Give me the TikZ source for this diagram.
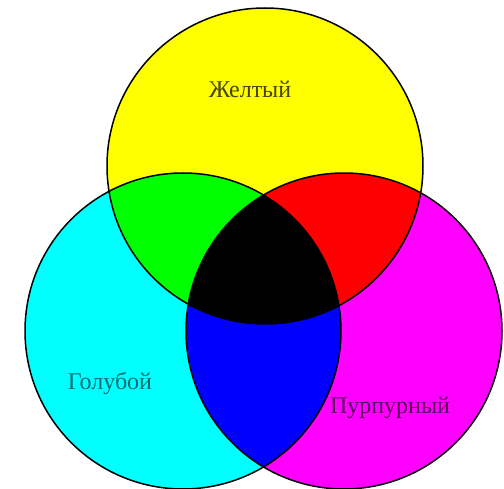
\documentclass[tikz,border=0pt]{standalone}
\usepackage{fontspec}
\setmainfont{Liberation Serif}
\definecolor{cY}{RGB}{255,255,0}
\definecolor{cC}{RGB}{0,255,255}
\definecolor{cM}{RGB}{255,0,255}
\definecolor{cG}{RGB}{0,255,0}
\definecolor{cR}{RGB}{255,0,0}
\definecolor{cB}{RGB}{0,0,255}
\definecolor{tY}{RGB}{70,70,0}
\definecolor{tC}{RGB}{0,110,110}
\definecolor{tM}{RGB}{90,0,90}
\begin{document}
\begin{tikzpicture}[x=1pt,y=-1pt,
  outline/.style={draw=black,line width=1.5pt},
  lbl/.style={font=\fontsize{24}{26}\selectfont,inner sep=0pt}]
\useasboundingbox (0,0) rectangle (504,489);
\def\R{158}
\coordinate (Y) at (265,166);
\coordinate (C) at (183,331);
\coordinate (M) at (344,331);
% base fills
\fill[cY] (Y) circle (\R);
\fill[cC] (C) circle (\R);
\fill[cM] (M) circle (\R);
% pairwise overlaps
\begin{scope}
  \clip (Y) circle (\R);
  \fill[cG] (C) circle (\R);
  \fill[cR] (M) circle (\R);
\end{scope}
\begin{scope}
  \clip (C) circle (\R);
  \fill[cB] (M) circle (\R);
\end{scope}
\begin{scope}
  \clip (Y) circle (\R);
  \clip (C) circle (\R);
  \fill[black] (M) circle (\R);
\end{scope}
% outlines
\draw[outline] (Y) circle (\R);
\draw[outline] (C) circle (\R);
\draw[outline] (M) circle (\R);
% labels
\node[lbl,text=tY] (ly) at (250,89) {Желтый};
\node[lbl,text=tC] (lc) at (110,383) {Голубой};
\node[lbl,text=tM] (lm) at (390,408) {Пурпурный};
\end{tikzpicture}
\end{document}
